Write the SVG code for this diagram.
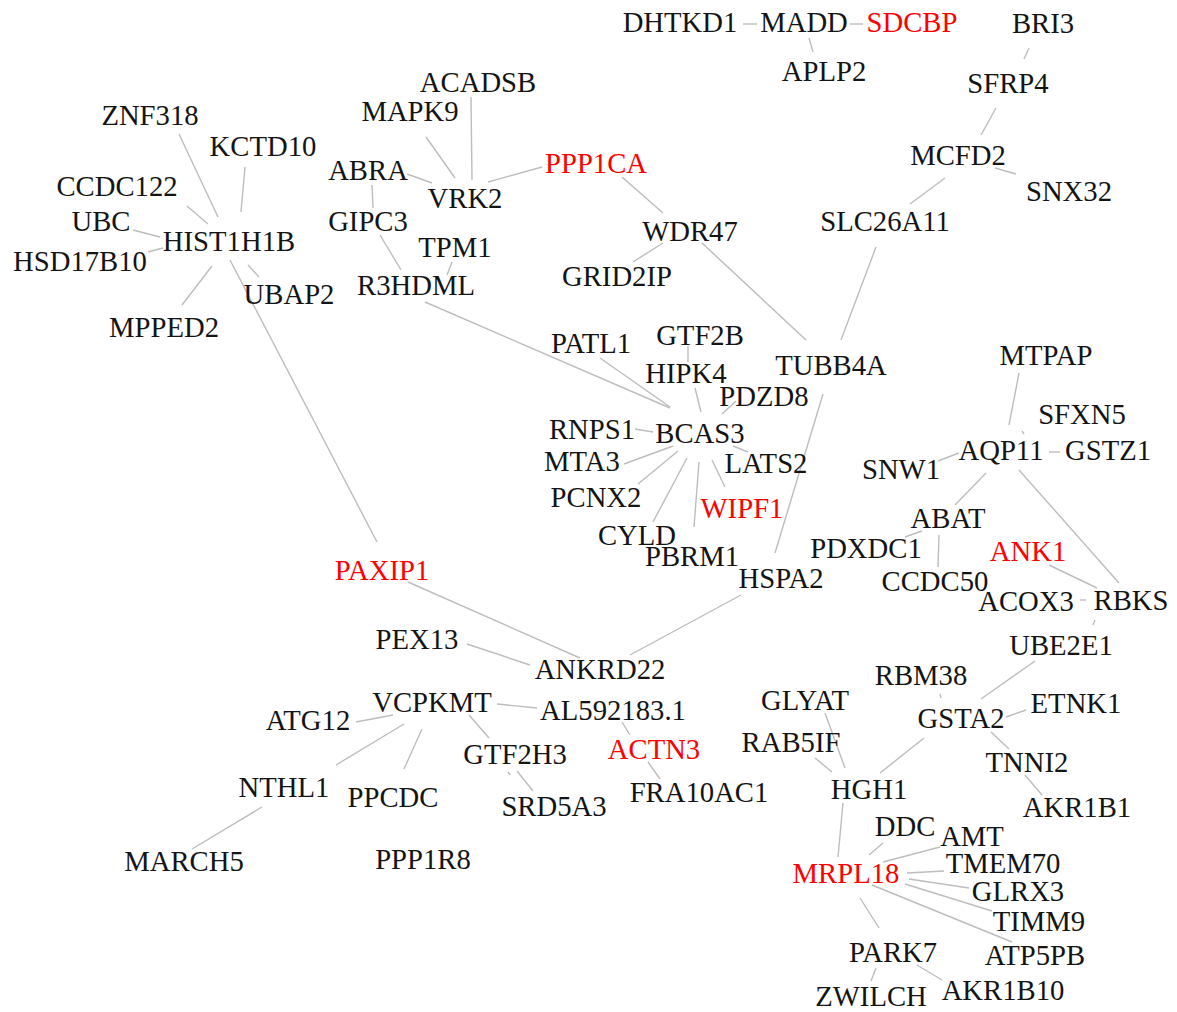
<svg xmlns="http://www.w3.org/2000/svg" width="1177" height="1012" viewBox="0 0 1177 1012">
<style>
text{font-family:"Liberation Serif","Times New Roman",serif;font-size:28.7px;fill:#141414;text-anchor:middle}
.r text{fill:#ff0000}
#edges line{stroke:#bdbdbd;stroke-width:1.4;fill:none}
</style>
<rect width="1177" height="1012" fill="#ffffff"/>
<g id="edges">
<line x1="743" y1="24" x2="757" y2="24"/>
<line x1="850" y1="24" x2="863" y2="24"/>
<line x1="809" y1="38" x2="813" y2="52"/>
<line x1="1029" y1="48" x2="1024" y2="59"/>
<line x1="996" y1="108" x2="981" y2="135"/>
<line x1="995" y1="168" x2="1016" y2="174"/>
<line x1="945" y1="178" x2="910" y2="204"/>
<line x1="876" y1="247" x2="841" y2="340"/>
<line x1="702" y1="243" x2="806" y2="340"/>
<line x1="407" y1="174" x2="432" y2="183"/>
<line x1="426" y1="137" x2="455" y2="178"/>
<line x1="471" y1="97" x2="472" y2="180"/>
<line x1="488" y1="182" x2="542" y2="167"/>
<line x1="622" y1="177" x2="663" y2="213"/>
<line x1="663" y1="243" x2="633" y2="262"/>
<line x1="452" y1="262" x2="447" y2="275"/>
<line x1="372" y1="185" x2="373" y2="208"/>
<line x1="380" y1="235" x2="401" y2="270"/>
<line x1="425" y1="302" x2="670" y2="408"/>
<line x1="179" y1="134" x2="218" y2="217"/>
<line x1="245" y1="167" x2="241" y2="212"/>
<line x1="187" y1="206" x2="208" y2="224"/>
<line x1="133" y1="230" x2="160" y2="237"/>
<line x1="148" y1="252" x2="163" y2="248"/>
<line x1="212" y1="266" x2="182" y2="305"/>
<line x1="248" y1="265" x2="259" y2="277"/>
<line x1="230" y1="260" x2="377" y2="542"/>
<line x1="408" y1="582" x2="580" y2="658"/>
<line x1="467" y1="644" x2="530" y2="665"/>
<line x1="741" y1="595" x2="630" y2="655"/>
<line x1="823" y1="394" x2="775" y2="553"/>
<line x1="600" y1="358" x2="670" y2="407"/>
<line x1="688" y1="346" x2="688" y2="362"/>
<line x1="695" y1="388" x2="701" y2="412"/>
<line x1="736" y1="401" x2="722" y2="414"/>
<line x1="635" y1="429" x2="653" y2="432"/>
<line x1="624" y1="464" x2="673" y2="446"/>
<line x1="733" y1="446" x2="748" y2="452"/>
<line x1="638" y1="484" x2="678" y2="451"/>
<line x1="653" y1="522" x2="687" y2="458"/>
<line x1="694" y1="527" x2="699" y2="462"/>
<line x1="725" y1="487" x2="712" y2="460"/>
<line x1="1019" y1="373" x2="1009" y2="425"/>
<line x1="1022" y1="431" x2="1024" y2="434"/>
<line x1="1049" y1="452" x2="1060" y2="452"/>
<line x1="938" y1="461" x2="959" y2="453"/>
<line x1="986" y1="473" x2="955" y2="505"/>
<line x1="1019" y1="470" x2="1119" y2="583"/>
<line x1="922" y1="531" x2="905" y2="537"/>
<line x1="939" y1="535" x2="938" y2="567"/>
<line x1="1049" y1="565" x2="1097" y2="588"/>
<line x1="1080" y1="600" x2="1086" y2="600"/>
<line x1="1095" y1="620" x2="1093" y2="625"/>
<line x1="1035" y1="661" x2="981" y2="699"/>
<line x1="940" y1="694" x2="941" y2="698"/>
<line x1="1006" y1="717" x2="1026" y2="710"/>
<line x1="991" y1="732" x2="1009" y2="749"/>
<line x1="1025" y1="775" x2="1042" y2="795"/>
<line x1="825" y1="713" x2="845" y2="768"/>
<line x1="815" y1="758" x2="832" y2="772"/>
<line x1="880" y1="773" x2="924" y2="738"/>
<line x1="843" y1="803" x2="838" y2="857"/>
<line x1="883" y1="843" x2="869" y2="855"/>
<line x1="883" y1="862" x2="940" y2="847"/>
<line x1="907" y1="873" x2="944" y2="871"/>
<line x1="909" y1="879" x2="969" y2="888"/>
<line x1="905" y1="884" x2="992" y2="911"/>
<line x1="872" y1="885" x2="1012" y2="942"/>
<line x1="860" y1="898" x2="879" y2="928"/>
<line x1="876" y1="968" x2="871" y2="981"/>
<line x1="917" y1="965" x2="942" y2="980"/>
<line x1="356" y1="722" x2="393" y2="715"/>
<line x1="404" y1="724" x2="336" y2="765"/>
<line x1="422" y1="729" x2="404" y2="769"/>
<line x1="497" y1="704" x2="537" y2="708"/>
<line x1="469" y1="715" x2="489" y2="738"/>
<line x1="517" y1="771" x2="533" y2="791"/>
<line x1="508" y1="772" x2="510" y2="775"/>
<line x1="622" y1="722" x2="630" y2="735"/>
<line x1="648" y1="762" x2="660" y2="779"/>
<line x1="262" y1="807" x2="192" y2="849"/>
</g>
<g id="n-DHTKD1"><text x="680" y="32">DHTKD1</text></g>
<g id="n-MADD"><text x="804" y="32">MADD</text></g>
<g id="n-SDCBP" class="r"><text x="912" y="32">SDCBP</text></g>
<g id="n-APLP2"><text x="824" y="81">APLP2</text></g>
<g id="n-BRI3"><text x="1043" y="33">BRI3</text></g>
<g id="n-SFRP4"><text x="1008" y="93">SFRP4</text></g>
<g id="n-MCFD2"><text x="958" y="165">MCFD2</text></g>
<g id="n-SNX32"><text x="1069" y="201">SNX32</text></g>
<g id="n-SLC26A11"><text x="885" y="231">SLC26A11</text></g>
<g id="n-ACADSB"><text x="478" y="92">ACADSB</text></g>
<g id="n-MAPK9"><text x="410" y="121">MAPK9</text></g>
<g id="n-ABRA"><text x="368" y="180">ABRA</text></g>
<g id="n-VRK2"><text x="465" y="208">VRK2</text></g>
<g id="n-PPP1CA" class="r"><text x="596" y="173">PPP1CA</text></g>
<g id="n-GIPC3"><text x="368" y="231">GIPC3</text></g>
<g id="n-TPM1"><text x="455" y="257">TPM1</text></g>
<g id="n-R3HDML"><text x="416" y="295">R3HDML</text></g>
<g id="n-WDR47"><text x="690" y="241">WDR47</text></g>
<g id="n-GRID2IP"><text x="617" y="286">GRID2IP</text></g>
<g id="n-ZNF318"><text x="150" y="125">ZNF318</text></g>
<g id="n-KCTD10"><text x="263" y="156">KCTD10</text></g>
<g id="n-CCDC122"><text x="117" y="196">CCDC122</text></g>
<g id="n-UBC"><text x="101" y="231">UBC</text></g>
<g id="n-HIST1H1B"><text x="229" y="251">HIST1H1B</text></g>
<g id="n-HSD17B10"><text x="80" y="271">HSD17B10</text></g>
<g id="n-UBAP2"><text x="289" y="304">UBAP2</text></g>
<g id="n-MPPED2"><text x="164" y="337">MPPED2</text></g>
<g id="n-PAXIP1" class="r"><text x="382" y="580">PAXIP1</text></g>
<g id="n-PEX13"><text x="417" y="649">PEX13</text></g>
<g id="n-ANKRD22"><text x="600" y="679">ANKRD22</text></g>
<g id="n-HSPA2"><text x="781" y="588">HSPA2</text></g>
<g id="n-TUBB4A"><text x="831" y="375">TUBB4A</text></g>
<g id="n-PATL1"><text x="591" y="353">PATL1</text></g>
<g id="n-GTF2B"><text x="700" y="345">GTF2B</text></g>
<g id="n-HIPK4"><text x="686" y="383">HIPK4</text></g>
<g id="n-PDZD8"><text x="764" y="406">PDZD8</text></g>
<g id="n-RNPS1"><text x="592" y="439">RNPS1</text></g>
<g id="n-BCAS3"><text x="700" y="443">BCAS3</text></g>
<g id="n-MTA3"><text x="582" y="471">MTA3</text></g>
<g id="n-LATS2"><text x="766" y="473">LATS2</text></g>
<g id="n-PCNX2"><text x="596" y="507">PCNX2</text></g>
<g id="n-WIPF1" class="r"><text x="742" y="518">WIPF1</text></g>
<g id="n-CYLD"><text x="637" y="545">CYLD</text></g>
<g id="n-PBRM1"><text x="692" y="566">PBRM1</text></g>
<g id="n-MTPAP"><text x="1046" y="365">MTPAP</text></g>
<g id="n-SFXN5"><text x="1082" y="424">SFXN5</text></g>
<g id="n-AQP11"><text x="1001" y="460">AQP11</text></g>
<g id="n-GSTZ1"><text x="1108" y="460">GSTZ1</text></g>
<g id="n-SNW1"><text x="901" y="479">SNW1</text></g>
<g id="n-ABAT"><text x="948" y="528">ABAT</text></g>
<g id="n-PDXDC1"><text x="866" y="558">PDXDC1</text></g>
<g id="n-ANK1" class="r"><text x="1028" y="561">ANK1</text></g>
<g id="n-CCDC50"><text x="935" y="591">CCDC50</text></g>
<g id="n-ACOX3"><text x="1026" y="611">ACOX3</text></g>
<g id="n-RBKS"><text x="1131" y="610">RBKS</text></g>
<g id="n-UBE2E1"><text x="1061" y="655">UBE2E1</text></g>
<g id="n-RBM38"><text x="921" y="685">RBM38</text></g>
<g id="n-GLYAT"><text x="805" y="710">GLYAT</text></g>
<g id="n-GSTA2"><text x="961" y="728">GSTA2</text></g>
<g id="n-ETNK1"><text x="1076" y="713">ETNK1</text></g>
<g id="n-RAB5IF"><text x="791" y="752">RAB5IF</text></g>
<g id="n-TNNI2"><text x="1027" y="772">TNNI2</text></g>
<g id="n-HGH1"><text x="869" y="799">HGH1</text></g>
<g id="n-AKR1B1"><text x="1077" y="817">AKR1B1</text></g>
<g id="n-DDC"><text x="905" y="836">DDC</text></g>
<g id="n-AMT"><text x="972" y="846">AMT</text></g>
<g id="n-TMEM70"><text x="1003" y="873">TMEM70</text></g>
<g id="n-MRPL18" class="r"><text x="846" y="883">MRPL18</text></g>
<g id="n-GLRX3"><text x="1018" y="901">GLRX3</text></g>
<g id="n-TIMM9"><text x="1039" y="931">TIMM9</text></g>
<g id="n-ATP5PB"><text x="1035" y="965">ATP5PB</text></g>
<g id="n-PARK7"><text x="893" y="962">PARK7</text></g>
<g id="n-ZWILCH"><text x="871" y="1006">ZWILCH</text></g>
<g id="n-AKR1B10"><text x="1003" y="1000">AKR1B10</text></g>
<g id="n-VCPKMT"><text x="432" y="712">VCPKMT</text></g>
<g id="n-ATG12"><text x="308" y="730">ATG12</text></g>
<g id="n-AL592183.1"><text x="613" y="720">AL592183.1</text></g>
<g id="n-GTF2H3"><text x="515" y="764">GTF2H3</text></g>
<g id="n-SRD5A3"><text x="554" y="816">SRD5A3</text></g>
<g id="n-ACTN3" class="r"><text x="654" y="759">ACTN3</text></g>
<g id="n-FRA10AC1"><text x="699" y="802">FRA10AC1</text></g>
<g id="n-NTHL1"><text x="284" y="797">NTHL1</text></g>
<g id="n-PPCDC"><text x="393" y="807">PPCDC</text></g>
<g id="n-PPP1R8"><text x="423" y="869">PPP1R8</text></g>
<g id="n-MARCH5"><text x="184" y="871">MARCH5</text></g>
</svg>
